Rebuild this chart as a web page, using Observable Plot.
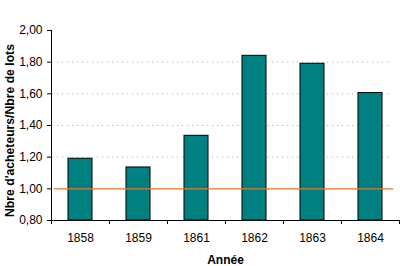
<!DOCTYPE html>
<html><head><meta charset="utf-8">
<script src="https://cdn.jsdelivr.net/npm/d3@7"></script>
<script src="https://cdn.jsdelivr.net/npm/@observablehq/plot@0.6"></script>
<style>
html,body{margin:0;padding:0;background:#fff;}
svg{font-family:"Liberation Sans",Arial,sans-serif;}
</style></head>
<body><div id="chart"></div>
<script>
const years = ["1858","1859","1861","1862","1863","1864"];
const ratios = [1.19, 1.135, 1.335, 1.84, 1.79, 1.605];
const yTicks = [0.8, 1.0, 1.2, 1.4, 1.6, 1.8, 2.0];
const gridTicks = [1.2, 1.4, 1.6, 1.8];
const reference = 1.0;

const data = years.map((y, i) => ({year: y, i, v: ratios[i]}));
const comma = v => d3.format(".2f")(v).replace(".", ",");
const pad = 0.293;

const chart = Plot.plot({
  width: 400, height: 266,
  marginLeft: 51, marginRight: 1, marginTop: 30, marginBottom: 46,
  style: {fontFamily: "'Liberation Sans', Arial, sans-serif", fontSize: "11px", color: "#000", background: "#fff"},
  x: {type: "linear", domain: [0, years.length]},
  y: {domain: [0.8, 2.0]},
  marks: [
    Plot.ruleY(gridTicks, {x1: 0.02, x2: 5.88, stroke: "#aaa", strokeDasharray: "1,4", strokeWidth: 1}),
    Plot.rectY(data, {x1: d => d.i + pad, x2: d => d.i + 1 - pad, y1: 0.8, y2: "v", fill: "#008080", stroke: "#000", strokeWidth: 1}),
    Plot.ruleY([reference], {x1: 0.05, x2: 5.9, stroke: "#e8782a", strokeWidth: 1.2}),
    Plot.axisY({ticks: yTicks, tickFormat: comma, tickSize: 4, tickPadding: 5, fontSize: 12, label: null}),
    Plot.ruleX([0], {stroke: "#000"}),
    Plot.ruleY([0.8], {stroke: "#000"}),
    Plot.axisX({ticks: d3.range(0, years.length + 1), tickFormat: () => "", tickSize: 4, label: null}),
    Plot.axisX({ticks: years.map((y, i) => i + 0.5), tickFormat: v => years[Math.floor(v)], tickSize: 0, tickPadding: 13, fontSize: 12, label: null}),
    Plot.text(["Année"], {frameAnchor: "bottom", lineAnchor: "middle", dy: 40, text: d => d, fontWeight: "bold", fontSize: 12}),
    Plot.text(["Nbre d'acheteurs/Nbre de lots"], {frameAnchor: "left", textAnchor: "middle", lineAnchor: "middle", dx: -41, dy: 5, rotate: -90, text: d => d, fontWeight: "bold", fontSize: 12.2})
  ]
});
document.getElementById("chart").appendChild(chart);
</script></body></html>
